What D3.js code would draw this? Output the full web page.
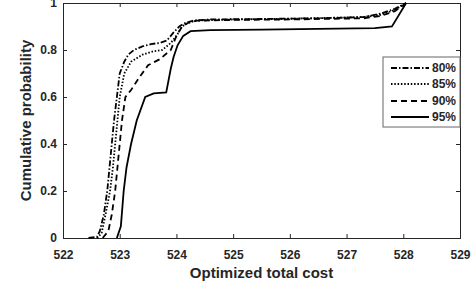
<!DOCTYPE html>
<html>
<head>
<meta charset="utf-8">
<script src="https://cdn.jsdelivr.net/npm/d3@7"></script>
<style>
  html, body { margin: 0; padding: 0; background: #fff; }
  svg { display: block; }
  text { font-family: "Liberation Sans", Arial, sans-serif; font-weight: bold; fill: #262626; }
</style>
</head>
<body>
<svg id="chart" width="472" height="285"></svg>
<script>
// ---- data ----
const seriesNames = ["80%", "85%", "90%", "95%"];
const xTicks = [522, 523, 524, 525, 526, 527, 528, 529];
const yTicks = [0, 0.2, 0.4, 0.6, 0.8, 1];
const xLabel = "Optimized total cost";
const yLabel = "Cumulative probability";

const cost80 = [522.45, 522.6, 522.65, 522.72, 522.78, 522.82, 522.86, 522.9, 522.95, 523.0, 523.08, 523.15, 523.25, 523.4, 523.55, 523.7, 523.83, 523.9, 523.95, 524.05, 524.15, 524.3, 524.6, 525.5, 526.5, 527.3, 527.6, 527.85, 528.05];
const prob80 = [0, 0.005, 0.03, 0.1, 0.2, 0.3, 0.4, 0.5, 0.6, 0.7, 0.75, 0.78, 0.8, 0.815, 0.825, 0.83, 0.84, 0.86, 0.875, 0.9, 0.915, 0.925, 0.93, 0.932, 0.935, 0.94, 0.955, 0.975, 1];

const cost85 = [522.6, 522.68, 522.75, 522.83, 522.88, 522.92, 522.96, 523.0, 523.08, 523.2, 523.4, 523.6, 523.75, 523.9, 524.0, 524.1, 524.2, 524.35, 525.0, 526.0, 527.3, 527.6, 527.85, 528.05];
const prob85 = [0, 0.02, 0.1, 0.2, 0.3, 0.4, 0.5, 0.6, 0.7, 0.75, 0.78, 0.795, 0.8, 0.83, 0.86, 0.9, 0.915, 0.925, 0.93, 0.933, 0.94, 0.95, 0.97, 1];

const cost90 = [522.7, 522.8, 522.86, 522.92, 522.96, 523.0, 523.04, 523.1, 523.2, 523.35, 523.5, 523.7, 523.9, 524.0, 524.1, 524.2, 524.35, 525.0, 526.0, 527.3, 527.6, 527.85, 528.05];
const prob90 = [0, 0.03, 0.1, 0.2, 0.3, 0.4, 0.5, 0.6, 0.63, 0.685, 0.735, 0.76, 0.8, 0.86, 0.9, 0.915, 0.925, 0.928, 0.93, 0.935, 0.945, 0.965, 1];

const cost95 = [522.95, 523.02, 523.07, 523.12, 523.2, 523.3, 523.45, 523.6, 523.82, 523.86, 523.9, 523.95, 524.02, 524.12, 524.25, 524.6, 525.5, 526.5, 527.5, 527.8, 527.9, 528.0, 528.05];
const prob95 = [0, 0.05, 0.2, 0.3, 0.4, 0.5, 0.6, 0.615, 0.62, 0.67, 0.72, 0.77, 0.82, 0.86, 0.88, 0.885, 0.887, 0.89, 0.893, 0.9, 0.94, 0.98, 1];

// ---- layout ----
const svg = d3.select("#chart");
const L = 63, R = 460, T = 3, B = 238;
const x = d3.scaleLinear().domain([522, 529]).range([L, R]);
const y = d3.scaleLinear().domain([0, 1]).range([B, T]);
const ink = "#262626";

const series = [
  { name: seriesNames[0], xs: cost80, ys: prob80, dash: "6,2,1.5,2" },
  { name: seriesNames[1], xs: cost85, ys: prob85, dash: "1.5,1.8" },
  { name: seriesNames[2], xs: cost90, ys: prob90, dash: "6,4" },
  { name: seriesNames[3], xs: cost95, ys: prob95, dash: null }
];

// axes with inward ticks
const xAxis = d3.axisBottom(x).tickValues(xTicks).tickSize(-4).tickPadding(12).tickFormat(d3.format("d"));
const yAxis = d3.axisLeft(y).tickValues(yTicks).tickSize(-4).tickPadding(6).tickFormat(d => d === 0 || d === 1 ? String(d) : d3.format(".1f")(d));

const gx = svg.append("g").attr("transform", `translate(0,${B})`).call(xAxis);
const gy = svg.append("g").attr("transform", `translate(${L},0)`).call(yAxis);
const gxTop = svg.append("g").attr("transform", `translate(0,${T})`).call(d3.axisTop(x).tickValues(xTicks).tickSize(-4).tickFormat(""));
const gyRight = svg.append("g").attr("transform", `translate(${R},0)`).call(d3.axisRight(y).tickValues(yTicks).tickSize(-4).tickFormat(""));

[gx, gy, gxTop, gyRight].forEach(g => {
  g.select(".domain").attr("stroke", ink).attr("stroke-width", 1);
  g.selectAll(".tick line").attr("stroke", ink);
  g.selectAll("text").attr("font-size", 12).attr("fill", ink)
    .attr("font-family", "'Liberation Sans', Arial, sans-serif").attr("font-weight", "bold");
});

// lines
const line = d3.line().x(d => x(d[0])).y(d => y(d[1]));
series.forEach(s => {
  const pts = s.xs.map((v, i) => [v, s.ys[i]]);
  svg.append("path")
    .datum(pts)
    .attr("d", line)
    .attr("fill", "none")
    .attr("stroke", "#000")
    .attr("stroke-width", 1.8)
    .attr("stroke-dasharray", s.dash);
});

// axis titles
svg.append("text")
  .attr("x", (L + R) / 2).attr("y", 278)
  .attr("text-anchor", "middle")
  .attr("font-size", 15)
  .text(xLabel);
svg.append("text")
  .attr("transform", `translate(31,${(T + B) / 2}) rotate(-90)`)
  .attr("text-anchor", "middle")
  .attr("font-size", 15)
  .text(yLabel);

// legend
const lg = svg.append("g");
lg.append("rect").attr("x", 383).attr("y", 57).attr("width", 77).attr("height", 70)
  .attr("fill", "#fff").attr("stroke", "#666").attr("stroke-width", 1);
const rowY = [68, 84, 101, 117];
series.forEach((s, i) => {
  lg.append("line").attr("x1", 391).attr("x2", 429).attr("y1", rowY[i]).attr("y2", rowY[i])
    .attr("stroke", "#000").attr("stroke-width", 1.8).attr("stroke-dasharray", s.dash);
  lg.append("text").attr("x", 432).attr("y", rowY[i]).attr("dy", "0.36em")
    .attr("font-size", 12).text(s.name);
});
</script>
</body>
</html>
